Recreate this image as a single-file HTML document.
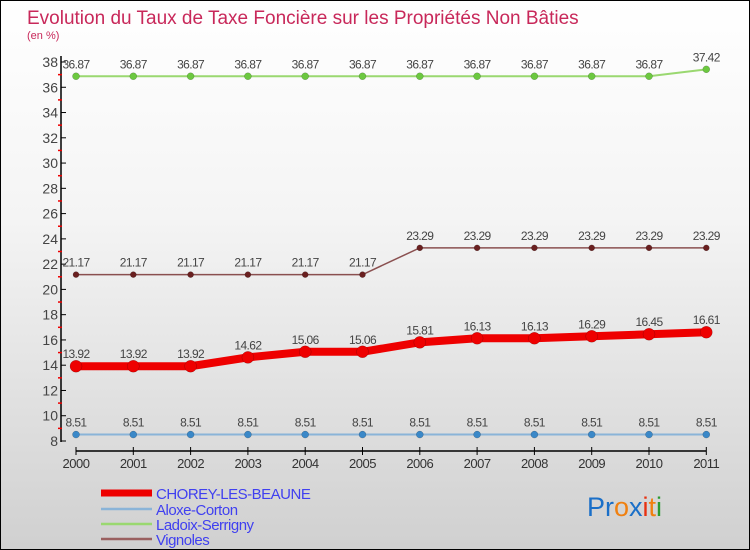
<!DOCTYPE html>
<html><head><meta charset="utf-8"><style>
body{margin:0;}
#c{position:relative;width:748px;height:548px;border:1px solid #000;background:linear-gradient(#ffffff 0%,#f4f4f4 40%,#d0d0d0 100%);font-family:"Liberation Sans",sans-serif;overflow:hidden}
svg{position:absolute;left:0;top:0}
</style></head><body>
<div id="c">
<svg id="s" width="750" height="550">
<text x="26" y="23" font-size="19" fill="#c8285a">Evolution du Taux de Taxe Foncière sur les Propriétés Non Bâties</text>
<text x="26" y="38" font-size="11" fill="#c8285a">(en %)</text>
<text x="586" y="515" font-size="27"><tspan fill="#1a6fc8">Pr</tspan><tspan fill="#f08010">o</tspan><tspan fill="#1a6fc8">x</tspan><tspan fill="#e83010">i</tspan><tspan fill="#f08010">t</tspan><tspan fill="#2a9a30">i</tspan></text>
</svg>
</div>
<script>
const years=["2000","2001","2002","2003","2004","2005","2006","2007","2008","2009","2010","2011"];
const chorey=[13.92,13.92,13.92,14.62,15.06,15.06,15.81,16.13,16.13,16.29,16.45,16.61];
const aloxe=[8.51,8.51,8.51,8.51,8.51,8.51,8.51,8.51,8.51,8.51,8.51,8.51];
const ladoix=[36.87,36.87,36.87,36.87,36.87,36.87,36.87,36.87,36.87,36.87,36.87,37.42];
const vignoles=[21.17,21.17,21.17,21.17,21.17,21.17,23.29,23.29,23.29,23.29,23.29,23.29];
const yTicks=[8,10,12,14,16,18,20,22,24,26,28,30,32,34,36,38];
const names=["CHOREY-LES-BEAUNE","Aloxe-Corton","Ladoix-Serrigny","Vignoles"];
const NS="http://www.w3.org/2000/svg";
const s=document.getElementById('s');
const X=i=>75+i*57.3;
const Y=v=>440-(v-8)*(379/30);
function mk(t,a,p){const e=document.createElementNS(NS,t);for(const k in a)e.setAttribute(k,a[k]);(p||s).appendChild(e);return e;}
let ax=mk('line',{x1:60,y1:55,x2:60,y2:441,stroke:'#000','stroke-width':1.5});


yTicks.forEach(v=>{
 const t=mk('line',{x1:60,x2:65,y1:Y(v),y2:Y(v),stroke:'#000'});
 
 
 if(v<38){
 const m=mk('line',{x1:57,x2:61,y1:Y(v+1),y2:Y(v+1),stroke:'#e00','stroke-width':1.5});
 
 
 }
 const l=mk('text',{x:57,y:Y(v)+5,'text-anchor':'end','font-size':14,fill:'#444'});
 l.textContent=v;
 
 
});
let xa=mk('line',{x1:75,y1:450,x2:X(11),y2:450,stroke:'#000','stroke-width':1.5});


years.forEach((y,i)=>{
 const t=mk('line',{x1:X(i),x2:X(i),y1:446,y2:454,stroke:'#000'});
 
 
 const l=mk('text',{x:X(i),y:467,'text-anchor':'middle','font-size':13,fill:'#333','letter-spacing':'-0.5'});
 l.textContent=y;
 
 
});
function series(d,color,w,r,pc,nm){
 const g=mk('g',{});
 
 
 const pl=mk('polyline',{points:d.map((v,i)=>X(i)+','+Y(v)).join(' '),fill:'none',stroke:color,'stroke-width':w},g);
 
 
 d.forEach((v,i)=>{
  const c=mk('circle',{cx:X(i),cy:Y(v),r:r,fill:pc,stroke:'rgba(0,0,0,0.3)','stroke-width':0.5},g);
  
  
  const t=mk('text',{x:X(i),y:Y(v)-8,'text-anchor':'middle','font-size':12,fill:'#444','letter-spacing':'-0.6'},g);
  t.textContent=v;
  
  
 });
}
series(aloxe,'#8ab4d8',2,3.5,'#3a88c8','aloxe');
series(ladoix,'#9ad870',2,3.5,'#6cc840','ladoix');
series(vignoles,'#8a5050',1.5,3,'#6a2020','vignoles');
series(chorey,'#ee0000',8,6,'#ee0000','chorey');
const lc=['#ee0000','#8ab4d8','#9ad870','#9a6060'],lw=[7,2.5,2.5,2.5],ly=[492,508,523,538];
names.forEach((n,i)=>{
 const l=mk('line',{x1:100,x2:151,y1:ly[i],y2:ly[i],stroke:lc[i],'stroke-width':lw[i]});
 
 
 const t=mk('text',{x:155,y:ly[i]+6,'font-size':15,fill:'#4040f0','letter-spacing':'-0.5'});
 t.textContent=n;
 
 
});
</script>
</body></html>
